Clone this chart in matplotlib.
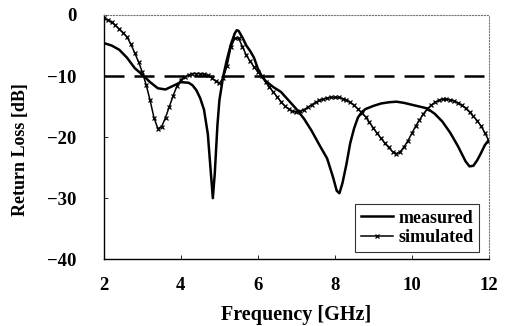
import matplotlib.pyplot as plt

# measured return loss (solid line)
meas_f = [2.0, 2.2, 2.4, 2.6, 2.8, 3.0, 3.2, 3.4, 3.6, 3.8, 4.0, 4.2, 4.3, 4.4, 4.5,
          4.6, 4.7, 4.78, 4.83, 4.88, 4.95, 5.0, 5.1, 5.2, 5.3, 5.4, 5.45, 5.5, 5.6,
          5.7, 5.8, 5.9, 6.0, 6.1, 6.2, 6.4, 6.6, 6.8, 7.0, 7.2, 7.4, 7.6, 7.8, 7.95,
          8.05, 8.12, 8.2, 8.3, 8.4, 8.5, 8.6, 8.7, 8.8, 9.0, 9.2, 9.4, 9.6, 9.8,
          10.0, 10.2, 10.4, 10.6, 10.8, 11.0, 11.2, 11.4, 11.5, 11.6, 11.7, 11.8,
          11.9, 12.0]
meas_db = [-4.6, -5.0, -5.7, -7.0, -8.7, -9.8, -11.0, -12.0, -12.2, -11.6, -11.0,
           -11.1, -11.5, -12.3, -13.6, -15.5, -19.5, -26.0, -30.0, -26.0, -18.0,
           -14.0, -10.0, -7.2, -4.8, -3.0, -2.5, -2.6, -3.7, -5.0, -5.9, -7.0, -8.8,
           -10.0, -10.8, -11.8, -12.6, -14.0, -15.4, -17.0, -19.0, -21.3, -23.5,
           -26.5, -28.8, -29.2, -27.5, -24.5, -21.0, -18.6, -16.8, -15.9, -15.4,
           -14.9, -14.5, -14.3, -14.2, -14.4, -14.7, -15.0, -15.3, -16.2, -17.5,
           -19.3, -21.5, -24.0, -24.8, -24.7, -23.8, -22.6, -21.3, -20.5]

# simulated return loss (line with x markers), one point every 0.1 GHz
sim_f = [2.0 + 0.1 * i for i in range(101)]
sim_db = [-0.5, -0.8, -1.2, -1.7, -2.3, -2.9, -3.6, -4.8, -6.2, -7.7,
          -9.4, -11.5, -14.0, -16.8, -18.6, -18.3, -16.8, -15.0, -13.2, -11.6,
          -10.6, -10.1, -9.8, -9.6, -9.6, -9.6, -9.7, -9.9, -10.3, -10.8,
          -11.2, -10.3, -8.3, -5.3, -3.8, -3.8, -5.2, -6.6, -7.6, -8.5,
          -9.3, -10.0, -11.0, -11.8, -12.6, -13.4, -14.2, -14.9, -15.4, -15.8,
          -15.9, -15.8, -15.5, -15.1, -14.7, -14.3, -14.0, -13.8, -13.6, -13.5,
          -13.5, -13.5, -13.7, -13.9, -14.3, -14.8, -15.4, -16.0, -16.7, -17.6,
          -18.5, -19.4, -20.2, -21.0, -21.7, -22.4, -22.7, -22.4, -21.6, -20.6,
          -19.4, -18.2, -17.2, -16.2, -15.4, -14.8, -14.3, -14.0, -13.8, -13.8,
          -13.9, -14.1, -14.4, -14.8, -15.3, -15.9, -16.6, -17.3, -18.2, -19.3,
          -20.6]

threshold = -10
xticks = [2, 4, 6, 8, 10, 12]
yticks = [0, -10, -20, -30, -40]

plt.rcParams['font.family'] = ['Liberation Serif', 'DejaVu Serif']
plt.rcParams['font.weight'] = 'bold'

fig = plt.figure(figsize=(5.07, 3.26), dpi=100)
ax = fig.add_axes([0.205, 0.205, 0.759, 0.749])

ax.plot(meas_f, meas_db, color='black', lw=1.8, label='measured')
ax.plot(sim_f, sim_db, color='black', lw=1.1, marker='x', ms=3.5, mew=0.9,
        label='simulated')
ax.axhline(threshold, color='black', lw=1.8, dashes=(8, 4))

ax.set_xlim(2, 12)
ax.set_ylim(-40, 0)
ax.set_xticks(xticks)
ax.set_yticks(yticks)
ax.tick_params(direction='in', length=3, width=0.6, labelsize=13.5)
ax.tick_params(axis='y', pad=20)
ax.tick_params(axis='x', pad=13)

for s in ['top', 'right']:
    ax.spines[s].set_linestyle(':')
    ax.spines[s].set_color('#777777')
    ax.spines[s].set_linewidth(0.8)
for s in ['left', 'bottom']:
    ax.spines[s].set_linewidth(1.0)

ax.set_xlabel('Frequency [GHz]', fontsize=14.5, fontweight='bold', labelpad=8)
ax.set_ylabel('Return Loss [dB]', fontsize=13, fontweight='bold')
ax.yaxis.set_label_coords(-0.195, 0.45)

leg = ax.legend(loc='lower right', bbox_to_anchor=(0.975, 0.03), fontsize=13,
                frameon=True, fancybox=False, edgecolor='black',
                handlelength=1.8, borderpad=0.3, labelspacing=0.15,
                handletextpad=0.3, borderaxespad=0)
leg.get_frame().set_linewidth(0.8)

fig.savefig('out.png', dpi=100)
